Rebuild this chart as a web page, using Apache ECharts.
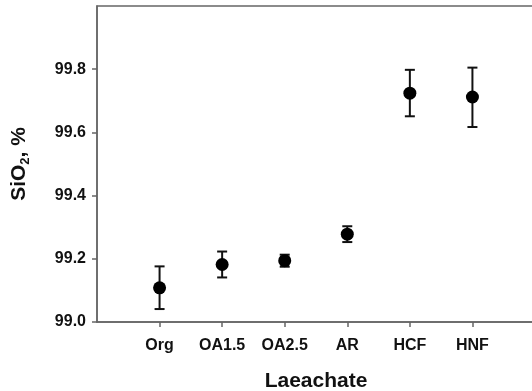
<!DOCTYPE html>
<html><head><meta charset="utf-8">
<script src="https://cdn.jsdelivr.net/npm/echarts@6/dist/echarts.min.js"></script>
<style>html,body{margin:0;padding:0;background:#fff}#c{width:532px;height:391px}</style>
</head><body><div id="c"></div>
<script>
var categories = ['Org','OA1.5','OA2.5','AR','HCF','HNF'];
var means = [99.108, 99.182, 99.194, 99.278, 99.724, 99.712];
var upper = [99.176, 99.223, 99.213, 99.303, 99.798, 99.805];
var lower = [99.041, 99.141, 99.175, 99.253, 99.651, 99.617];
var yTicks = [99.0, 99.2, 99.4, 99.6, 99.8];

var idx = categories.map(function(c,i){return i;});
var font = 'Liberation Sans, Arial, sans-serif';
var chart = echarts.init(document.getElementById('c'));
chart.setOption({
  animation:false,
  grid:{left:97,right:-3,top:6,bottom:69,show:true,borderColor:'#666',borderWidth:1.5,
    containLabel:false,outerBoundsMode:'none'},
  xAxis:{type:'value',min:-1,max:6,
    name:'Laeachate',nameLocation:'middle',nameGap:49,
    nameTextStyle:{fontFamily:font,fontWeight:'bold',fontSize:21,color:'#111'},
    axisLine:{show:true,onZero:false,lineStyle:{color:'#666',width:1.5}},
    axisTick:{show:true,customValues:idx,length:5,lineStyle:{color:'#666',width:1.5}},
    axisLabel:{customValues:idx,margin:16,fontFamily:font,fontWeight:'bold',fontSize:16,color:'#111',
      formatter:function(v){return categories[Math.round(v)];}},
    splitLine:{show:false}},
  yAxis:{type:'value',min:99.0,max:100.0,
    name:'{a|SiO}{s|2}{a|, %}',nameLocation:'middle',nameGap:65,nameRotate:90,
    nameTextStyle:{rich:{a:{fontFamily:font,fontWeight:'bold',fontSize:21,color:'#111'},
      s:{fontFamily:font,fontWeight:'bold',fontSize:13,color:'#111',padding:[13,0,0,0]}}},
    axisLine:{show:true,onZero:false,lineStyle:{color:'#666',width:1.5}},
    axisTick:{show:true,customValues:yTicks,length:5,lineStyle:{color:'#666',width:1.5}},
    axisLabel:{customValues:yTicks,margin:11,fontFamily:font,fontWeight:'bold',fontSize:16,color:'#111',
      formatter:function(v){return v.toFixed(1);}},
    splitLine:{show:false}},
  series:[
    {type:'custom',data:idx.map(function(i){return [i,lower[i],upper[i]];}),
     renderItem:function(params,api){
       var x=api.value(0);
       var lo=api.coord([x,api.value(1)]), hi=api.coord([x,api.value(2)]);
       var w=5;
       var st={stroke:'#111',lineWidth:2};
       return {type:'group',children:[
         {type:'line',shape:{x1:lo[0],y1:lo[1],x2:hi[0],y2:hi[1]},style:st},
         {type:'line',shape:{x1:lo[0]-w,y1:lo[1],x2:lo[0]+w,y2:lo[1]},style:st},
         {type:'line',shape:{x1:hi[0]-w,y1:hi[1],x2:hi[0]+w,y2:hi[1]},style:st}
       ]};
     },z:2},
    {type:'scatter',data:idx.map(function(i){return [i,means[i]];}),
     symbol:'circle',symbolSize:13,itemStyle:{color:'#000',opacity:1},z:3}
  ]
});
</script></body></html>
